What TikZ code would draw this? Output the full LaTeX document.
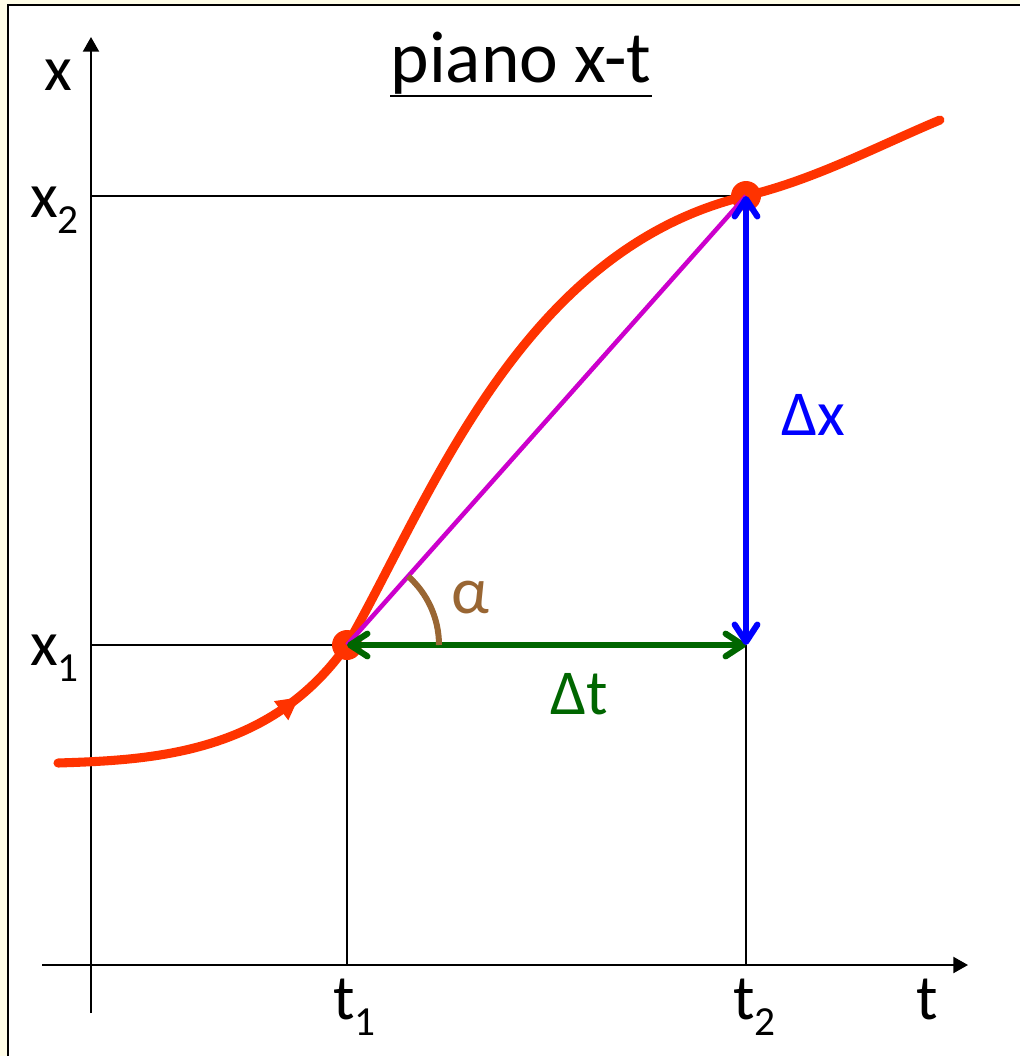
\documentclass[tikz,border=0pt]{standalone}
\usepackage{fontspec}
\setmainfont{Carlito}
\usetikzlibrary{arrows.meta}
\definecolor{bgyellow}{RGB}{255,253,231}
\definecolor{curvered}{RGB}{255,51,0}
\definecolor{dgreen}{RGB}{0,102,0}
\definecolor{mag}{RGB}{204,0,204}
\definecolor{brownish}{RGB}{153,102,51}
\newcommand\mysub[1]{\raisebox{-12pt}{\fontsize{31}{31}\selectfont #1}}
\tikzset{
  lbl/.style={inner sep=0pt, font=\fontsize{48}{50}\selectfont, anchor=base west},
  guide/.style={line width=1.5pt, black},
  axis/.style={line width=1.6pt, black, -{Triangle[length=11pt,width=12pt]}},
  reddot/.style={circle, fill=curvered, minimum size=22.5pt, inner sep=0pt},
  barbs/.style={line width=4.6pt, {Straight Barb[length=13pt,width=17pt,line cap=round,line join=round]}-{Straight Barb[length=13pt,width=17pt,line cap=round,line join=round]}},
  redcurve/.style={line width=6.8pt, curvered}
}
\begin{document}
\begin{tikzpicture}[x=0.75pt,y=-0.75pt]
\useasboundingbox (0,0) rectangle (1020,1056);
\fill[bgyellow] (0,0) rectangle (1020,1056);
\fill[white] (8,5) rectangle (1020,1056);
\draw[line width=1.5pt] (8,1056) -- (8,5) -- (1020,5);

% coordinates
\coordinate (P1) at (347,645);
\coordinate (P2) at (746,196);
\coordinate (Q) at (746,645);
\coordinate (Y0) at (91,1013);
\coordinate (Y1) at (91,37);
\coordinate (X0) at (42,965);
\coordinate (X1) at (968,965);
\coordinate (GX2) at (91,196);
\coordinate (GX1) at (91,645);
\coordinate (GT1) at (347,965);
\coordinate (GT2) at (746,965);
\coordinate (C0) at (58,763);
\coordinate (C9) at (940,120);

% guides
\draw[guide] (GX2) -- (P2);
\draw[guide] (GX1) -- (P1);
\draw[guide] (P1) -- (GT1);
\draw[guide] (Q) -- (GT2);

% axes
\draw[axis] (Y0) -- (Y1);
\draw[axis] (X0) -- (X1);

% title
\node[inner sep=0pt, font=\fontsize{55}{57}\selectfont, anchor=base] (title) at (521,83) {piano x-t};
\draw[line width=2.2pt] ([shift={(0,13)}]title.base west) -- ([shift={(0,13)}]title.base east);

% labels
\node[lbl, anchor=base] (xl) at (58.5,90) {x};
\node[lbl] (x2l) at (30,217) {x\mysub{2}};
\node[lbl] (x1l) at (30,665) {x\mysub{1}};
\node[lbl] (t1l) at (333,1019) {t\mysub{1}};
\node[lbl] (t2l) at (733,1019) {t\mysub{2}};
\node[lbl] (tl) at (916,1019) {t};
\node[lbl, text=dgreen] (dtl) at (550,714) {Δt};
\node[lbl, text=blue] (dxl) at (781,435) {Δx};
\node[lbl, text=brownish, font=\fontsize{50}{52}\selectfont] (al) at (451,613) {α};

% curve
\draw[redcurve, line cap=round] (C0) .. controls (150,760) and (270,755) .. (P1);
\fill[curvered] (298.7,697.5) -- (273.9,701.1) -- (288.3,720.3) -- cycle;
\draw[redcurve, line cap=round] (P1) .. controls (430,500) and (520,250) .. (P2)
  .. controls (814,180) and (880,145) .. (C9);

% dots
\node[reddot] (d1) at (P1) {};
\node[reddot] (d2) at (P2) {};

% secant
\draw[line width=3.4pt, mag] (P1) -- (P2);

% delta arrows
\draw[barbs, dgreen] (P1) -- (Q);
\draw[barbs, blue] (Q) -- (P2);

% angle arc
\draw[line width=4.5pt, brownish] (439,645) arc[start angle=0, end angle=-48.4, radius=92];
\end{tikzpicture}
\end{document}
